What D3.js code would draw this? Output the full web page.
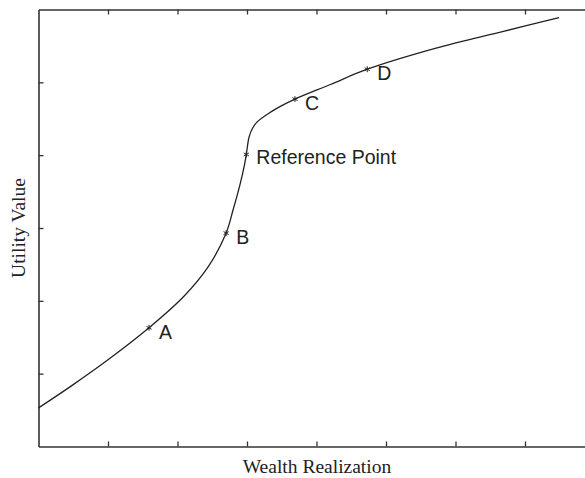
<!DOCTYPE html>
<html>
<head>
<meta charset="utf-8">
<script src="https://cdn.jsdelivr.net/npm/d3@7"></script>
<style>
  body { margin: 0; background: #fff; }
  svg { display: block; }
</style>
</head>
<body>
<div id="chart"></div>
<script>
// Curve (x = wealth, y = utility, in tick units)
const curveX = [0, 0.5, 1.0, 1.59, 2.1, 2.45, 2.70, 2.80, 2.90, 2.96, 2.99, 3.03, 3.08, 3.15, 3.32, 3.50, 3.69, 4.20, 4.73, 5.72, 6.69, 7.49];
const curveY = [0.53, 0.85, 1.19, 1.63, 2.07, 2.48, 2.93, 3.25, 3.60, 3.85, 4.01, 4.25, 4.37, 4.46, 4.58, 4.68, 4.77, 4.97, 5.18, 5.47, 5.70, 5.89];

// Marked points
const pointLabels = ["A", "B", "Reference Point", "C", "D"];
const pointX = [1.59, 2.70, 2.99, 3.69, 4.73];
const pointY = [1.63, 2.93, 4.01, 4.77, 5.18];

// Tick positions (unlabelled)
const xTicks = [1, 2, 3, 4, 5, 6, 7];
const yTicks = [1, 2, 3, 4, 5];

const xTitle = "Wealth Realization";
const yTitle = "Utility Value";

const width = 585, height = 478;
const plotLeft = 38.5, plotTop = 9.5, plotBottom = 446.5;

const svg = d3.select("#chart").append("svg")
    .attr("width", width)
    .attr("height", height);

const x = d3.scaleLinear().domain([0, 8]).range([plotLeft, plotLeft + 8 * 69.5]);
const y = d3.scaleLinear().domain([0, 6]).range([plotBottom, plotTop]);

// Axes with inward ticks
function styleAxis(g) {
    g.select(".domain").attr("stroke", "#333").attr("stroke-width", 1.6);
    g.selectAll(".tick line").attr("stroke", "#333").attr("stroke-width", 1.3);
    g.selectAll(".tick text").remove();
}

svg.append("g")
    .attr("transform", `translate(0,${plotBottom})`)
    .call(d3.axisBottom(x).tickValues(xTicks).tickSize(-5).tickSizeOuter(0))
    .call(styleAxis);

svg.append("g")
    .attr("transform", `translate(0,${plotTop})`)
    .call(d3.axisTop(x).tickValues(xTicks).tickSize(-5).tickSizeOuter(0))
    .call(styleAxis);

svg.append("g")
    .attr("transform", `translate(${plotLeft},0)`)
    .call(d3.axisLeft(y).tickValues(yTicks).tickSize(-5).tickSizeOuter(0))
    .call(styleAxis);

// Utility curve
const line = d3.line()
    .x(i => x(curveX[i]))
    .y(i => y(curveY[i]))
    .curve(d3.curveCatmullRom.alpha(0.5));

svg.append("path")
    .attr("d", line(d3.range(curveX.length)))
    .attr("fill", "none")
    .attr("stroke", "#222")
    .attr("stroke-width", 1.3);

// Markers and labels
const pts = svg.append("g").selectAll("g")
    .data(d3.range(pointLabels.length))
    .join("g")
    .attr("transform", i => `translate(${x(pointX[i])},${y(pointY[i])})`);

pts.append("path")
    .attr("d", d3.symbol(d3.symbolAsterisk, 24))
    .attr("fill", "none")
    .attr("stroke", "#222")
    .attr("stroke-width", 1);

pts.append("text")
    .attr("x", 10)
    .attr("y", i => pointLabels[i].length > 1 ? 4 : 6)
    .attr("dominant-baseline", "middle")
    .style("font-family", "'Liberation Sans', Arial, sans-serif")
    .style("font-size", "19.5px")
    .attr("fill", "#222")
    .text(i => pointLabels[i]);

// Axis titles
svg.append("text")
    .attr("x", 317)
    .attr("y", 473)
    .attr("text-anchor", "middle")
    .style("font-family", "'Liberation Serif', 'Times New Roman', serif")
    .style("font-size", "19.5px")
    .attr("fill", "#222")
    .text(xTitle);

svg.append("text")
    .attr("transform", `translate(25,${(plotTop + plotBottom) / 2}) rotate(-90)`)
    .attr("text-anchor", "middle")
    .style("font-family", "'Liberation Serif', 'Times New Roman', serif")
    .style("font-size", "19.5px")
    .attr("fill", "#222")
    .text(yTitle);
</script>
</body>
</html>
